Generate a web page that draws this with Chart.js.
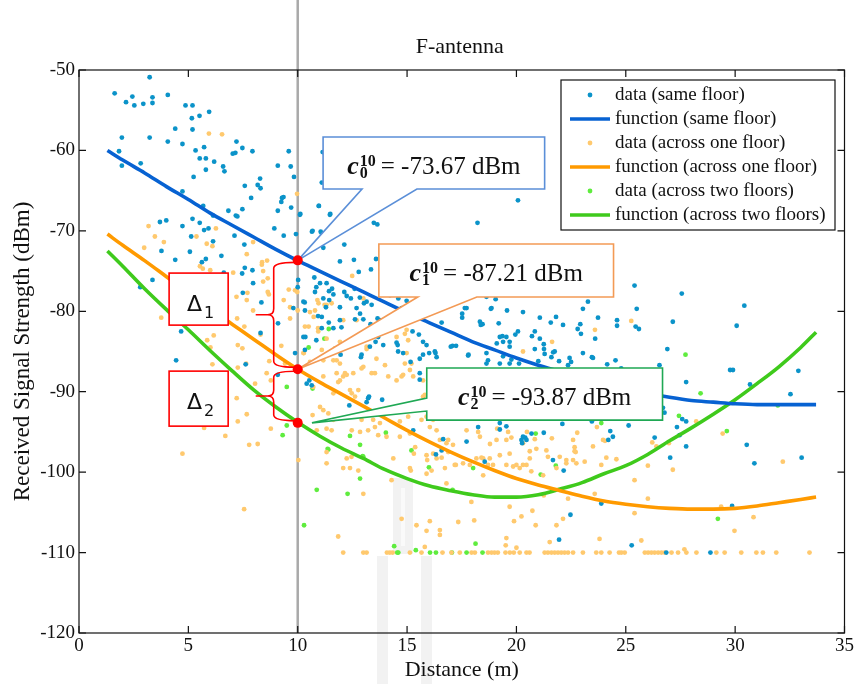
<!DOCTYPE html>
<html>
<head>
<meta charset="utf-8">
<title>F-antenna</title>
<script src="https://cdn.jsdelivr.net/npm/chart.js@4.4.1/dist/chart.umd.min.js"></script>
<style>
  html, body { margin: 0; padding: 0; background: #fff; }
  #wrap { width: 856px; height: 684px; }
</style>
</head>
<body>
<div id="wrap"><canvas id="chart" width="856" height="684"></canvas></div>
<script>
// axis ticks
const xTicks = [0, 5, 10, 15, 20, 25, 30, 35];
const yTicks = [-120, -110, -100, -90, -80, -70, -60, -50];

// measured points [distance m, RSS dBm]
const sameFloorPts = [
  [3.23,-50.9],[1.63,-52.9],[2.44,-53.3],[2.15,-54.0],[2.53,-54.4],[2.94,-54.2],[3.36,-53.4],[3.36,-54.1],[4.06,-53.1],[4.87,-54.4],
  [5.19,-54.4],[5.16,-56.0],[5.51,-55.7],[5.95,-55.2],[4.40,-57.3],[5.19,-57.4],[1.96,-58.4],[3.23,-58.4],[4.06,-58.9],[4.73,-59.2],
  [5.33,-60.0],[5.72,-59.6],[5.52,-61.0],[5.80,-61.0],[6.18,-61.4],[5.80,-62.4],[6.59,-62.0],[6.65,-62.6],[5.24,-63.3],[7.20,-58.9],
  [7.03,-60.4],[7.15,-60.3],[7.47,-59.7],[7.93,-60.1],[1.83,-60.1],[1.96,-61.9],[2.82,-61.6],[9.59,-60.1],[9.09,-61.9],[9.68,-62.0],
  [9.83,-63.3],[8.28,-63.5],[7.58,-64.4],[8.17,-64.3],[8.30,-64.7],[9.28,-65.9],[9.35,-65.8],[9.25,-66.4],[7.87,-65.9],[4.73,-65.1],
  [5.68,-66.9],[6.13,-68.1],[6.83,-67.5],[7.17,-68.1],[7.24,-68.2],[7.47,-67.3],[9.09,-67.5],[9.70,-67.1],[10.96,-66.9],[11.49,-67.9],
  [10.12,-67.9],[3.70,-68.9],[3.99,-68.7],[5.19,-68.5],[5.52,-69.0],[4.73,-69.4],[5.72,-69.9],[5.92,-69.7],[6.13,-71.3],[5.13,-70.7],
  [7.11,-70.6],[7.56,-71.7],[8.93,-69.7],[9.36,-70.6],[9.92,-70.4],[10.65,-70.1],[11.05,-70.1],[11.54,-69.8],[3.77,-72.5],[5.07,-72.6],
  [4.40,-73.6],[5.62,-73.9],[5.80,-73.5],[6.51,-73.1],[6.62,-75.2],[7.46,-75.3],[7.58,-74.6],[7.93,-74.9],[7.96,-76.5],[7.49,-77.7],
  [8.34,-78.9],[9.10,-81.5],[8.30,-82.7],[3.36,-76.1],[2.80,-77.0],[4.67,-82.5],[10.02,-76.1],[10.0,-77.0],[10.76,-75.8],[10.85,-77.0],
  [10.79,-77.6],[11.32,-76.5],[11.57,-77.2],[10.32,-78.9],[11.29,-79.5],[10.93,-80.6],[11.42,-81.4],[10.35,-83.2],[10.85,-83.6],
  [12.13,-71.7],[12.57,-73.6],[12.79,-75.1],[13.35,-74.8],[13.58,-73.5],[11.93,-73.8],[12.13,-77.6],[12.43,-78.4],[12.60,-77.2],[13.03,-79.0],
  [12.85,-80.3],[13.33,-81.6],[11.93,-79.5],[13.56,-83.8],[12.92,-85.4],[13.91,-84.2],[14.57,-84.2],[14.59,-85.0],[15.25,-82.5],[15.73,-83.8],
  [11.14,-60.2],[11.1,-64.0],[10.1,-68.0],[10.97,-66.9],[11.47,-68.0],[13.48,-69.0],[13.64,-69.2],[10.68,-70.0],[11.1,-70.3],[11.17,-72.1],
  [18.22,-69.0],[20.07,-66.2],
  [25.4,-76.8],[27.56,-77.8],[30.42,-79.3],[30.07,-81.8],[27.15,-81.3],[25.5,-79.7],[25.45,-81.9],[25.6,-82.2],[24.6,-81.1],[24.6,-81.8],
  [23.73,-80.8],[23.04,-79.7],[23.27,-78.8],[22.92,-81.6],[22.8,-82.2],[22.13,-81.7],[21.81,-80.7],[21.57,-81.4],[21.07,-80.8],[20.71,-83.1],
  [19.95,-82.9],[19.57,-79.9],[19.19,-81.5],[18.83,-79.7],[18.45,-81.6],[19.36,-83.1],[19.1,-84.0],[18.63,-78.2],[19.05,-78.5],[17.72,-79.6],
  [17.52,-80.8],[16.58,-81.4],[16.01,-85.2],[16.3,-85.2],[17.08,-84.3],[17.24,-84.3],[17.81,-85.4],[20.84,-84.7],[21.25,-84.1],[21.68,-85.1],
  [23.04,-85.2],[23.45,-85.7],[26.9,-84.7],
  [22.95,-82.8],[21.26,-84.7],[21.75,-85.0],[21.6,-85.7],[21.95,-86.2],[22.43,-85.8],[22.5,-86.3],[23.5,-85.8],[23.6,-83.4],[24.15,-86.6],
  [24.53,-86.1],[26.54,-86.7],[27.76,-88.8],[29.77,-87.3],[29.9,-87.3],[30.68,-89.1],[32.89,-87.4],[32.53,-90.3],[26.77,-92.6],[26.7,-92.0],
  [27.58,-93.4],[27.76,-93.7],[27.34,-94.4],[27.46,-95.4],[27.76,-96.8],[30.53,-96.6],[33.04,-98.2],[27.03,-98.2],[26.32,-95.7],[25.13,-94.2],
  [24.41,-95.6],[24.29,-94.9],[24.2,-96.0],[21.25,-95.1],[22.1,-94.0],[22.2,-93.3],[21.0,-86.2],
  [30.88,-98.9],[23.45,-93.7],[20.23,-96.0],[20.4,-95.7],[19.24,-94.7],[19.54,-94.3],[17.72,-96.2],[16.65,-95.9],[16.32,-97.8],[18.55,-98.7],
  [21.67,-98.5],[22.16,-99.8],[23.88,-103.9],[22.47,-105.3],[21.95,-108.4],[25.27,-109.1],[26.85,-110.0],[28.87,-110.0],[29.86,-104.2],
  [15.58,-85.9],[16.27,-85.0],[16.35,-85.7],[17.79,-85.5],[18.63,-86.5],[18.7,-86.1],[19.24,-86.5],[19.69,-86.5],[21.06,-87.3],[22.36,-86.7],
  [24.79,-87.1],
  [4.44,-86.1],[7.62,-86.6],[9.09,-87.9],[9.88,-85.2],[10.53,-88.6],[10.64,-89.2],[12.36,-91.7],[13.22,-90.8],[13.86,-91.0],[15.28,-94.8],
  [15.16,-86.3],[15.73,-85.4],[15.58,-87.7],[15.58,-88.5],
  [13.84,-74.3],[11.02,-76.5],[11.43,-77.5],[11.63,-77.9],[12.24,-78.1],[12.84,-78.3],[13.15,-78.8],[13.38,-79.2],[11.17,-78.4],[11.44,-78.6],
  [10.26,-78.8],[9.8,-79.6],[10.33,-79.9],[12.69,-79.6],[12.62,-81.0],[11.1,-80.7],[11.93,-81.1],[11.1,-82.1],[11.63,-82.1],[12.0,-82.0],
  [13.0,-81.0],[13.65,-80.9],[13.76,-81.1],[14.6,-78.4],[14.98,-78.7],[14.22,-78.0],[14.06,-77.2],[14.75,-79.6],[14.9,-80.3],[15.54,-82.9],
  [15.89,-84.2],[14.52,-83.9],[14.82,-85.2],[13.68,-83.2],[13.3,-84.4],[12.89,-85.7],[11.93,-84.4],[11.96,-85.4],[10.26,-83.2],[10.33,-84.8],
  [17.0,-84.4],[16.04,-87.5],[18.63,-85.2],[19.24,-83.2],[19.39,-83.8],[19.54,-83.2],[19.69,-83.8],[19.69,-84.4],[20.07,-82.5],[20.84,-82.5],
  [21.07,-83.4],[18.33,-81.3],[18.37,-81.7],[17.64,-79.6],[17.52,-80.3],[18.86,-79.6],[20.3,-80.1],[19.54,-89.0],[18.7,-90.4],[19.24,-93.9],
  [20.3,-95.6],[20.46,-96.0],[20.69,-95.2],[18.25,-94.4],[13.26,-90.6],[13.15,-91.3],[10.41,-89.0],[16.58,-97.3],[20.26,-96.4],[21.29,-85.3],
  [19.77,-86.0],[19.39,-85.6],[20.12,-86.5]
];

const oneFloorPts = [
  [5.94,-57.9],[6.54,-58.0],[9.97,-65.4],[3.18,-69.4],[3.47,-70.7],[3.88,-71.4],[2.98,-72.1],[5.37,-70.7],[5.84,-71.6],[6.10,-71.9],
  [6.26,-69.7],[7.96,-71.4],[7.67,-72.9],[8.37,-73.9],[8.36,-74.2],[8.60,-73.7],[5.53,-74.4],[5.66,-74.7],[6.00,-74.9],[7.05,-75.2],
  [8.42,-75.0],[8.42,-76.3],[8.63,-75.9],[7.20,-78.2],[7.70,-77.7],[7.67,-78.6],[7.96,-79.9],[8.63,-77.6],[8.68,-77.9],[9.36,-78.6],
  [9.59,-77.3],[9.98,-77.6],[9.65,-79.5],[9.65,-80.9],[10.0,-79.9],[7.23,-80.9],[7.56,-81.9],[8.30,-82.9],[10.9,-78.6],[10.95,-79.0],
  [11.23,-79.2],[10.73,-80.7],[10.50,-81.9],[10.93,-82.1],[3.76,-80.8],[5.86,-83.6],[6.16,-83.0],[7.26,-84.2],[7.47,-84.6],[6.01,-84.5],
  [9.25,-84.3],
  [12.49,-75.6],[13.0,-78.4],[14.52,-83.2],[14.90,-82.8],[13.15,-84.7],[13.6,-85.9],
  [9.88,-77.4],[11.32,-79.2],[11.55,-79.0],[10.56,-80.1],[10.79,-79.9],[10.33,-81.9],[10.94,-82.5],[12.08,-81.1],[12.69,-81.1],[11.32,-83.4],
  [11.93,-83.8],[11.7,-84.6],[10.28,-85.2],[11.1,-84.8],[10.56,-86.3],[11.17,-86.1],[11.63,-86.1],[11.93,-86.5],[13.15,-84.4],[13.0,-86.9],
  [13.38,-87.7],[13.53,-87.7],[14.98,-82.3],[15.05,-83.6],[14.98,-85.2],[14.14,-88.1],[14.75,-88.1],[15.13,-87.3],[15.28,-88.1],[15.73,-88.6],
  [11.78,-87.7],[12.08,-88.1],[12.47,-90.2],[12.62,-90.6],[11.17,-88.1],[10.71,-89.4],[11.02,-91.9],[11.17,-92.3],[11.4,-92.7],[10.68,-92.9],
  [11.32,-94.6],[12.47,-94.8],[12.85,-95.0],[13.22,-94.8],[13.76,-93.9],[13.53,-94.4],[14.06,-95.6],[14.67,-95.6],[15.13,-95.2],[15.66,-93.5],
  [16.19,-93.5],[16.04,-94.4],[16.35,-94.8],[16.5,-96.0],[16.88,-96.0],[17.72,-94.8],[18.33,-95.6],[18.79,-96.5],[19.09,-96.0],[19.54,-96.0],
  [15.73,-90.6],[20.3,-96.4],
  [4.73,-97.7],[5.72,-94.5],[6.1,-86.6],[7.26,-87.0],[7.64,-86.5],[7.21,-90.8],[7.67,-92.8],[7.26,-93.7],[6.69,-95.5],[7.78,-96.6],
  [8.17,-96.5],[7.55,-104.6],[8.05,-89.0],[8.58,-87.7],[8.77,-88.6],[8.77,-94.6],[8.70,-86.2],[9.42,-86.5],[10.03,-98.5],[10.26,-85.2],
  [10.87,-94.8],[11.63,-93.5],[11.55,-94.8],[11.78,-86.1],[12.16,-87.7],[12.24,-87.9],[11.93,-88.6],[12.08,-99.5],[12.39,-99.5],[12.24,-98.3],
  [12.46,-98.1],[12.77,-99.8],[11.32,-98.9],[13.0,-102.7],[11.85,-108.0],[12.92,-93.5],[13.45,-93.5],[13.6,-92.7],[13.38,-92.5],[13.68,-95.4],
  [14.37,-98.3],[15.13,-99.5],[14.75,-105.8],[12.54,-87.7],[12.92,-87.1],[13.99,-86.7],[14.9,-86.5],[15.2,-86.5],[14.52,-88.6],[14.82,-87.9],
  [12.39,-89.8],[12.77,-89.8],[11.63,-90.2],[11.85,-88.8],[14.67,-93.7],[15.05,-93.1],
  [11.32,-97.5],[14.29,-101.0],[15.43,-106.6],[16.04,-106.1],[15.89,-107.3],[16.5,-107.2],[16.5,-107.8],[15.81,-109.3],[15.17,-99.8],[15.31,-97.7],
  [15.37,-96.9],[15.89,-97.9],[15.92,-98.5],[16.19,-97.7],[16.35,-98.3],[16.12,-99.8],[15.89,-100.2],[16.73,-99.5],[16.8,-101.4],
  [16.88,-97.5],[17.1,-96.6],[17.23,-99.1],[17.56,-98.9],[17.87,-99.1],[18.17,-98.3],[18.48,-98.3],[18.78,-98.3],[18.93,-99.1],[19.24,-97.9],
  [19.69,-97.7],[20.0,-99.1],[20.3,-99.1],[20.46,-99.1],[20.61,-98.3],[20.91,-97.1],[21.22,-100.4],[21.44,-98.1],[21.83,-99.5],[21.98,-98.1],
  [22.28,-98.5],[22.59,-98.5],[22.66,-96.9],[22.71,-97.5],[23.12,-98.7],[18.48,-100.4],
  [19.69,-104.3],[17.34,-106.2],[18.07,-106.0],[19.89,-106.1],[20.23,-105.5],[20.73,-104.8],[20.88,-106.6],[19.54,-108.2],[19.51,-109.1],[20.0,-109.4],
  [21.52,-108.7],[21.83,-106.6],[22.13,-105.8],[22.36,-103.3],[21.25,-102.9],
  [15.81,-90.4],[15.74,-91.2],[15.89,-93.1],[18.25,-95.0],[19.12,-94.6],[19.62,-95.0],[19.77,-95.7],[20.61,-97.4],[20.48,-95.0],[20.84,-95.9],
  [16.8,-96.4],[16.58,-98.2],[17.18,-99.1],[18.4,-98.2],[18.7,-99.1],[19.54,-99.1],[19.85,-99.3],[20.15,-99.5],[20.68,-99.9],[21.37,-97.3],
  [22.28,-98.9],[22.59,-96.0],[22.74,-98.9],[23.5,-96.8],[23.96,-96.0],[24.11,-98.2],[24.57,-98.4],[23.88,-99.1],[23.58,-102.7],[25.4,-101.0],
  [26.01,-99.2],[26.01,-103.3],[25.4,-105.1],[27.15,-99.7],[28.22,-93.7],[29.43,-95.2],[32.18,-98.7],[30.84,-105.6],[29.97,-107.3],[29.36,-104.3],
  [27.68,-109.6],[25.71,-108.5],[23.8,-108.3],[17.94,-103.7],
  [25.25,-81.2],[23.59,-82.3],[21.63,-83.8],[20.3,-85.0],[26.97,-96.4],[26.21,-96.3],[26.4,-96.8],[23.68,-94.4],[22.78,-95.1],[21.62,-95.8],
  [22.66,-97.4],[24.05,-96.1],
  // floor of the receiver (-110 dBm)
  [12.08,-110],[13.0,-110],[13.15,-110],[14.08,-110],[14.21,-110],[14.34,-110],[15.13,-110],[15.66,-110],[16.62,-110],[17.03,-110],
  [17.41,-110],[17.95,-110],[18.1,-110],[18.7,-110],[18.86,-110],[19.0,-110],[19.15,-110],[19.5,-110],[19.7,-110],[19.88,-110],
  [20.15,-110],[20.46,-110],[20.6,-110],[21.29,-110],[21.44,-110],[21.6,-110],[21.75,-110],[21.9,-110],[22.05,-110],[22.2,-110],
  [22.36,-110],[22.59,-110],[23.04,-110],[23.65,-110],[23.88,-110],[24.26,-110],[24.69,-110],[24.8,-110],[24.95,-110],[25.87,-110],
  [26.02,-110],[26.17,-110],[26.32,-110],[26.48,-110],[26.63,-110],[26.78,-110],[27.09,-110],[27.39,-110],[27.77,-110],[28.23,-110],
  [29.14,-110],[29.52,-110],[30.28,-110],[30.97,-110],[31.27,-110],[31.88,-110],[33.4,-110]
];

const twoFloorPts = [
  [10.50,-84.5],[11.22,-83.4],[11.42,-82.2],[9.5,-89.4],[10.68,-89.6],[9.5,-94.2],[9.31,-95.4],[11.4,-97.2],[12.85,-96.6],[12.39,-95.5],
  [14.03,-95.1],[13.0,-98.1],[12.85,-100.8],[10.87,-102.2],[12.28,-102.7],[10.29,-106.6],[15.2,-97.3],[16.0,-99.4],[11.37,-97.1],[12.97,-98.0],
  [17.08,-102.2],[18.02,-99.5],[21.11,-100.3],[21.8,-99.2],[18.13,-108.9],[14.41,-109.2],[14.55,-110],[15.4,-109.7],[16.05,-110],[16.32,-110],
  [17.05,-110],[17.72,-110],[18.45,-110],[14.6,-110],[27.73,-85.4],[28.42,-90.2],[27.43,-93.0],[29.62,-94.9],[23.88,-93.9],[20.88,-95.2],
  [29.21,-105.8],[31.95,-91.7]
];

// fitted path-loss functions
const curveX = [1.3, 2, 3, 4, 5, 6, 7, 8, 9, 10, 11, 12, 13, 14, 15, 16, 17, 18, 19, 20,
  21, 22, 23, 24, 25, 26, 27, 28, 29, 30, 31, 32, 33, 33.7];
const sameFloorFit = [-60.0, -61.2, -62.8, -64.5, -66.1, -67.8, -69.3, -70.8, -72.3, -73.7,
  -75.0, -76.3, -77.6, -78.9, -80.2, -81.4, -82.6, -83.8, -84.8, -85.8,
  -86.7, -87.5, -88.3, -89.0, -89.6, -90.2, -90.7, -91.1, -91.3, -91.5, -91.6, -91.6, -91.6, -91.6];
const oneFloorFit = [-70.4, -71.8, -73.7, -75.7, -77.7, -79.7, -81.6, -83.5, -85.4, -87.2,
  -88.8, -90.3, -91.8, -93.3, -94.8, -96.2, -97.5, -98.7, -99.8, -100.8,
  -101.6, -102.3, -103.0, -103.6, -104.0, -104.3, -104.5, -104.6, -104.6, -104.5, -104.2, -103.8, -103.4, -103.1];
const twoFloorFit = [-72.5, -74.4, -77.2, -79.8, -82.3, -84.9, -87.4, -89.8, -91.9, -93.8,
  -95.5, -97.0, -98.3, -99.7, -100.8, -101.7, -102.3, -102.8, -103.1, -103.1,
  -102.8, -102.1, -101.3, -100.2, -99.2, -97.8, -96.1, -94.5, -92.8, -91.0, -89.0, -86.9, -84.5, -82.6];

// values of the functions at 10 m
const refDistance = 10;
const c10 = [-73.67, -87.21, -93.87];

const serif = '"Liberation Serif", "Times New Roman", serif';
const sans = '"DejaVu Sans", sans-serif';
const toXY = pts => pts.map(p => ({ x: p[0], y: p[1] }));
const fitXY = ys => curveX.map((x, i) => ({ x: x, y: ys[i] }));

function dots(label, pts, color) {
  return { type: 'scatter', label: label, data: toXY(pts), backgroundColor: color, borderWidth: 0,
    pointRadius: 2.4, pointHoverRadius: 2.4, order: 2 };
}
function fitLine(label, ys, color) {
  return { type: 'line', label: label, data: fitXY(ys), borderColor: color, backgroundColor: color,
    borderWidth: 3.6, pointRadius: 0, cubicInterpolationMode: 'monotone', fill: false, order: 1 };
}

// callout boxes, in data units
const callouts = [
  { idx: 0, color: '#5b8fd8', box: [11.16, -58.33, 21.29, -64.8], side: 'bottom', base: [12.94, 15.45], tip: [10, c10[0]] },
  { idx: 1, color: '#f39a55', box: [13.71, -71.64, 24.44, -78.23], side: 'bottom', base: [15.49, 18.19], tip: [10, c10[1]] },
  { idx: 2, color: '#1fa854', box: [15.9, -87.06, 26.68, -93.53], side: 'left', base: [-90.8, -92.4], tip: [10.65, c10[2]] }
];
const deltaBoxes = [
  { sub: '1', box: [4.12, -75.25, 6.82, -81.72] },
  { sub: '2', box: [4.12, -87.44, 6.82, -94.28] }
];

const decor = {
  id: 'decor',
  beforeDraw(chart) {
    const ctx = chart.ctx;
    ctx.save();
    ctx.fillStyle = '#fff';
    ctx.fillRect(0, 0, chart.width, chart.height);
    // faint watermark behind everything
    ctx.fillStyle = '#f2f2f2';
    ctx.fillRect(393, 478, 20, 76);
    ctx.fillRect(377, 556, 11, 128);
    ctx.fillRect(421, 556, 11, 128);
    ctx.fillStyle = '#fafafa';
    ctx.fillRect(401, 488, 4, 58);
    ctx.restore();
  },
  beforeDatasetsDraw(chart) {
    const ctx = chart.ctx;
    const a = chart.chartArea;
    const x10 = chart.scales.x.getPixelForValue(refDistance);
    ctx.save();
    ctx.strokeStyle = '#a9a9a9';
    ctx.lineWidth = 2.5;
    ctx.beginPath();
    ctx.moveTo(x10, 0);
    ctx.lineTo(x10, a.bottom);
    ctx.stroke();
    ctx.restore();
  },
  afterDraw(chart) {
    const ctx = chart.ctx;
    const a = chart.chartArea;
    const xs = chart.scales.x, ys = chart.scales.y;
    const px = v => xs.getPixelForValue(v);
    const py = v => ys.getPixelForValue(v);
    ctx.save();

    // box and inward ticks
    ctx.strokeStyle = '#111';
    ctx.lineWidth = 1.2;
    ctx.strokeRect(a.left, a.top, a.right - a.left, a.bottom - a.top);
    ctx.beginPath();
    xTicks.forEach(v => {
      const x = px(v);
      ctx.moveTo(x, a.bottom); ctx.lineTo(x, a.bottom - 7);
      ctx.moveTo(x, a.top); ctx.lineTo(x, a.top + 7);
    });
    yTicks.forEach(v => {
      const y = py(v);
      ctx.moveTo(a.left, y); ctx.lineTo(a.left + 7, y);
      ctx.moveTo(a.right, y); ctx.lineTo(a.right - 7, y);
    });
    ctx.stroke();

    // callouts
    callouts.forEach(c => {
      const L = px(c.box[0]), T = py(c.box[1]), R = px(c.box[2]), B = py(c.box[3]);
      const tx = px(c.tip[0]), ty = py(c.tip[1]);
      ctx.beginPath();
      if (c.side === 'bottom') {
        const b1 = px(c.base[0]), b2 = px(c.base[1]);
        ctx.moveTo(L, T); ctx.lineTo(R, T); ctx.lineTo(R, B); ctx.lineTo(b2, B);
        ctx.lineTo(tx, ty); ctx.lineTo(b1, B); ctx.lineTo(L, B);
      } else {
        const b1 = py(c.base[0]), b2 = py(c.base[1]);
        ctx.moveTo(L, T); ctx.lineTo(R, T); ctx.lineTo(R, B); ctx.lineTo(L, B);
        ctx.lineTo(L, b2); ctx.lineTo(tx, ty); ctx.lineTo(L, b1);
      }
      ctx.closePath();
      ctx.fillStyle = '#fff';
      ctx.fill();
      ctx.strokeStyle = c.color;
      ctx.lineWidth = 1.6;
      ctx.stroke();

      const valueText = '= ' + c10[c.idx].toFixed(2) + ' dBm';
      ctx.font = 'italic bold 26px ' + serif;
      const wc = ctx.measureText('c').width;
      ctx.font = 'bold 16px ' + serif;
      const ws = Math.max(ctx.measureText('10').width, ctx.measureText(String(c.idx)).width);
      ctx.font = '25px ' + serif;
      const wt = ctx.measureText(valueText).width;
      const total = wc + 1 + ws + 5 + wt;
      let x = (L + R) / 2 - total / 2;
      const base = T + 37;
      ctx.fillStyle = '#111';
      ctx.textAlign = 'left';
      ctx.textBaseline = 'alphabetic';
      ctx.font = 'italic bold 26px ' + serif;
      ctx.fillText('c', x, base);
      x += wc + 1;
      ctx.font = 'bold 16px ' + serif;
      ctx.fillText('10', x, base - 8);
      ctx.fillText(String(c.idx), x, base + 4);
      x += ws + 5;
      ctx.font = '25px ' + serif;
      ctx.fillText(valueText, x, base);
    });

    // braces between the three values at 10 m
    const x10 = px(refDistance);
    const yv = c10.map(py);
    ctx.strokeStyle = '#ff0000';
    ctx.lineWidth = 1.6;
    for (let i = 0; i < 2; i++) {
      const top = yv[i] + 2, bot = yv[i + 1] - 2, mid = (top + bot) / 2;
      const xe = x10 - 3, xv = x10 - 24, xt = x10 - 42, r = 6;
      ctx.beginPath();
      ctx.moveTo(xe, top);
      ctx.quadraticCurveTo(xv, top, xv, top + r);
      ctx.lineTo(xv, mid - r);
      ctx.quadraticCurveTo(xv, mid, xv - r, mid);
      ctx.lineTo(xt, mid);
      ctx.moveTo(xv - r, mid);
      ctx.quadraticCurveTo(xv, mid, xv, mid + r);
      ctx.lineTo(xv, bot - r);
      ctx.quadraticCurveTo(xv, bot, xe, bot);
      ctx.stroke();
    }

    // delta boxes
    deltaBoxes.forEach(d => {
      const L = px(d.box[0]), T = py(d.box[1]), R = px(d.box[2]), B = py(d.box[3]);
      ctx.fillStyle = '#fff';
      ctx.fillRect(L, T, R - L, B - T);
      ctx.strokeStyle = '#ff0000';
      ctx.lineWidth = 1.6;
      ctx.strokeRect(L, T, R - L, B - T);
      ctx.font = '22px ' + sans;
      const wd = ctx.measureText('\u0394').width;
      ctx.font = '16px ' + sans;
      const wn = ctx.measureText(d.sub).width;
      const x = (L + R) / 2 - (wd + 2 + wn) / 2 + 2;
      ctx.fillStyle = '#111';
      ctx.textAlign = 'left';
      ctx.textBaseline = 'alphabetic';
      ctx.font = '22px ' + sans;
      ctx.fillText('\u0394', x, T + 38);
      ctx.font = '16px ' + sans;
      ctx.fillText(d.sub, x + wd + 2, T + 45);
    });

    // red markers at 10 m
    ctx.fillStyle = '#ff0000';
    yv.forEach(y => {
      ctx.beginPath();
      ctx.arc(x10, y, 5, 0, Math.PI * 2);
      ctx.fill();
    });

    // legend
    const lg = { left: 561, top: 80, right: 835, bottom: 230, row: 24 };
    ctx.fillStyle = '#fff';
    ctx.fillRect(lg.left, lg.top, lg.right - lg.left, lg.bottom - lg.top);
    ctx.strokeStyle = '#111';
    ctx.lineWidth = 1.2;
    ctx.strokeRect(lg.left, lg.top, lg.right - lg.left, lg.bottom - lg.top);
    chart.data.datasets.forEach((ds, i) => {
      const y = lg.top + 15 + i * lg.row;
      if (ds.type === 'scatter') {
        ctx.fillStyle = ds.backgroundColor;
        ctx.beginPath();
        ctx.arc(590, y, 2.4, 0, Math.PI * 2);
        ctx.fill();
      } else {
        ctx.strokeStyle = ds.borderColor;
        ctx.lineWidth = 3.6;
        ctx.beginPath();
        ctx.moveTo(570, y); ctx.lineTo(610, y);
        ctx.stroke();
      }
      ctx.fillStyle = '#111';
      ctx.font = '19px ' + serif;
      ctx.textAlign = 'left';
      ctx.textBaseline = 'middle';
      ctx.fillText(ds.label, 615, y);
    });

    // title
    ctx.fillStyle = '#111';
    ctx.font = '22px ' + serif;
    ctx.textAlign = 'center';
    ctx.textBaseline = 'middle';
    ctx.fillText('F-antenna', (a.left + a.right) / 2 - 2, 47);
    ctx.restore();
  }
};

new Chart(document.getElementById('chart'), {
  type: 'scatter',
  data: {
    datasets: [
      dots('data (same floor)', sameFloorPts, '#0b93c9'),
      fitLine('function (same floor)', sameFloorFit, '#0762d2'),
      dots('data (across one floor)', oneFloorPts, '#ffc96e'),
      fitLine('function (across one floor)', oneFloorFit, '#ff9a00'),
      dots('data (across two floors)', twoFloorPts, '#5fec3e'),
      fitLine('function (across two floors)', twoFloorFit, '#3fca1c')
    ]
  },
  options: {
    responsive: false,
    devicePixelRatio: 1,
    animation: false,
    layout: { padding: { top: 70, right: 11, bottom: 0, left: 0 } },
    plugins: { legend: { display: false }, tooltip: { enabled: false } },
    scales: {
      x: {
        type: 'linear', min: 0, max: 35,
        afterBuildTicks: s => { s.ticks = xTicks.map(v => ({ value: v })); },
        afterFit: s => { s.height = 51; },
        grid: { display: false, drawTicks: false },
        border: { display: false },
        ticks: { padding: 2, color: '#111', font: { family: serif, size: 19 } },
        title: { display: true, text: 'Distance (m)', color: '#111', padding: { top: 0, bottom: 1 },
          font: { family: serif, size: 22 } }
      },
      y: {
        type: 'linear', min: -120, max: -50,
        afterBuildTicks: s => { s.ticks = yTicks.map(v => ({ value: v })); },
        afterFit: s => { s.width = 79; },
        grid: { display: false, drawTicks: false },
        border: { display: false },
        ticks: { padding: 4, color: '#111', font: { family: serif, size: 19 } },
        title: { display: true, text: 'Received Signal Strength (dBm)', color: '#111', padding: { top: 9, bottom: 0 },
          font: { family: serif, size: 23 } }
      }
    }
  },
  plugins: [decor]
});
</script>
</body>
</html>
